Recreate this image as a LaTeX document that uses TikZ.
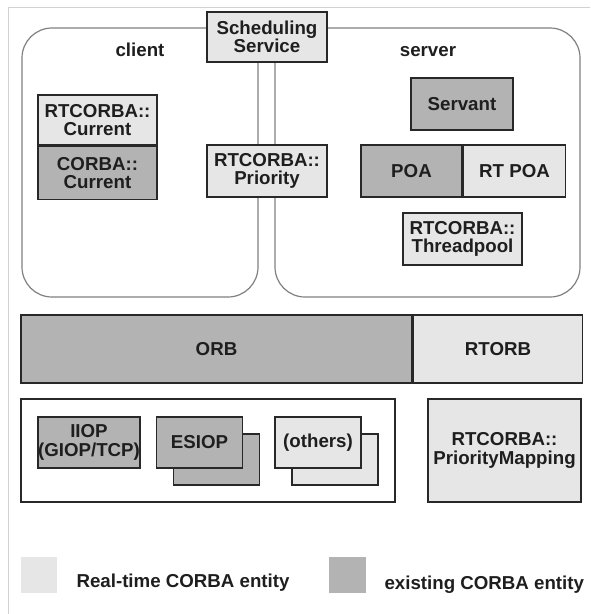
\documentclass[tikz,border=0pt]{standalone}
\usepackage{fontspec}
\setmainfont{Liberation Sans}
\usepackage{xcolor}
\usepackage{tikz}
\usetikzlibrary{positioning}
\definecolor{rtgray}{RGB}{230,230,230}
\definecolor{oldgray}{RGB}{179,179,179}
\definecolor{edgegray}{RGB}{40,40,40}
\definecolor{domgray}{RGB}{128,128,128}
\definecolor{framegray}{RGB}{210,210,210}
\definecolor{txtgray}{RGB}{30,30,30}

\begin{document}
\begin{tikzpicture}[x=1pt,y=-1pt,
  font=\fontsize{18.7}{18.5}\selectfont\bfseries,text=txtgray,
  blk/.style={draw=edgegray,line width=1.5pt,inner sep=0pt,align=center},
  rt/.style={blk,fill=rtgray},
  old/.style={blk,fill=oldgray},
  dom/.style={draw=domgray,line width=1.2pt,rounded corners=30pt,inner sep=0pt},
  key/.style={inner sep=0pt,minimum width=36pt,minimum height=36pt}]
\useasboundingbox (0,0) rectangle (590,614);
% frame
\coordinate (ftl) at (8,7);
\draw[framegray,line width=1pt] (ftl |- 0,614) -- (ftl) -- (590,7);
% domains
\node[dom,minimum width=236pt,minimum height=269pt] (client) at (140,162.5) {};
\node[dom,minimum width=305pt,minimum height=269pt] (server) at (427.5,162.5) {};
\node[anchor=base] (clientlbl) at (140,56) {client};
\node[anchor=base] (serverlbl) at (428,56) {server};
% shared services
\node[rt,minimum width=120pt,minimum height=50pt] (sched) at (267,37) {Scheduling\\Service};
\node[rt,minimum width=120pt,minimum height=52pt] (prio) at (267,171) {RTCORBA::\\Priority};
% client side
\node[rt,minimum width=119pt,minimum height=50pt] (rtcur) at (97.5,120) {RTCORBA::\\Current};
\node[old,minimum width=119pt,minimum height=53pt,below=0pt of rtcur] (cur) {CORBA::\\Current};
% server side
\node[old,minimum width=102pt,minimum height=52pt] (servant) at (462,104) {Servant};
\node[old,minimum width=101pt,minimum height=52pt] (poa) at (411.5,171) {POA};
\node[rt,minimum width=102pt,minimum height=52pt,right=0pt of poa] (rtpoa) {RT POA};
\node[rt,minimum width=119pt,minimum height=52pt] (tpool) at (462.5,239) {RTCORBA::\\Threadpool};
% ORB layer
\node[old,minimum width=391pt,minimum height=68pt] (orb) at (216.5,349) {ORB};
\node[rt,minimum width=169pt,minimum height=68pt,right=0pt of orb] (rtorb) {RTORB};
% transports
\node[blk,fill=white,minimum width=374pt,minimum height=103pt] (trans) at (208,450.5) {};
\node[old,minimum width=102pt,minimum height=51pt] (iiop) at (89,442.5) {IIOP\\(GIOP/TCP)};
\node[old,minimum width=86pt,minimum height=51pt] (esiopb) at (216.5,459.5) {};
\node[old,minimum width=86pt,minimum height=51pt] (esiop) at (199.5,442.5) {ESIOP};
\node[rt,minimum width=86pt,minimum height=51pt] (othersb) at (335,459.5) {};
\node[rt,minimum width=86pt,minimum height=51pt] (others) at (318,442.5) {(others)};
\node[rt,minimum width=153pt,minimum height=103pt] (prmap) at (504.5,450.5) {RTCORBA::\\PriorityMapping};
% legend
\node[key,fill=rtgray] (keyrt) at (39,575) {};
\node[anchor=base west] (keyrtlbl) at (73,587) {Real-time CORBA entity};
\node[key,fill=oldgray,minimum width=37pt] (keyold) at (347.5,575) {};
\node[anchor=base west] (keyoldlbl) at (381,589) {existing CORBA entity};
\end{tikzpicture}
\end{document}
